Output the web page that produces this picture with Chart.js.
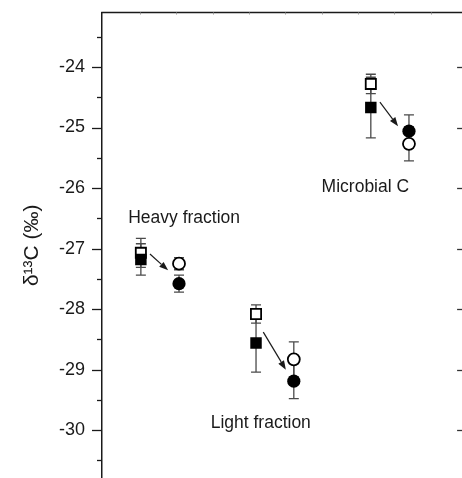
<!DOCTYPE html>
<html><head><meta charset="utf-8">
<script src="https://cdn.jsdelivr.net/npm/chart.js@4.4.0/dist/chart.umd.min.js"></script>
<style>
html,body{margin:0;padding:0;overflow:hidden;background:#fff;width:462px;height:478px}
canvas{display:block}
</style></head>
<body>
<canvas id="c" width="462" height="478"></canvas>
<script>
// ---- data ----
const groupLabels = ['Heavy fraction', 'Light fraction', 'Microbial C'];
const labelX = [2.21, 4.32, 7.20];
const labelY = [-26.57, -29.97, -26.06];
const xBefore = [1.02, 4.19, 7.35];
const xAfter = [2.07, 5.23, 8.40];
const openSquare = [-27.07, -28.08, -24.28];
const openSquareErr = [0.24, 0.15, 0.16];
const filledSquare = [-27.18, -28.56, -24.67];
const filledSquareErr = [0.26, 0.48, 0.50];
const openCircle = [-27.25, -28.83, -25.27];
const openCircleErr = [0.10, 0.29, 0.28];
const filledCircle = [-27.58, -29.19, -25.06];
const filledCircleErr = [0.14, 0.29, 0.27];
const arrowFromX = [1.27, 4.39, 7.60];
const arrowFromY = [-27.09, -28.38, -24.58];
const arrowToX = [1.77, 5.01, 8.10];
const arrowToY = [-27.36, -29.00, -24.98];
const yTickValues = [-30.5, -30, -29.5, -29, -28.5, -28, -27.5, -27, -26.5, -26, -25.5, -25, -24.5, -24, -23.5];
const topTickValues = [1, 2, 3, 4, 5, 6, 7, 8, 9];
const rightAxisValue = 10;   // right frame lies just outside the visible picture

const FONT = "'Liberation Sans', Arial, Helvetica, sans-serif";
const INK = '#1a1a1a';

function pts(xs, ys, errs) { return xs.map((x, i) => ({x: x, y: ys[i], err: errs[i]})); }

const decor = {
  id: 'decor',
  beforeDatasetsDraw(chart) {
    const {ctx} = chart;
    const xs = chart.scales.x, ys = chart.scales.y;
    ctx.save();
    ctx.strokeStyle = '#4a4a4a';
    ctx.lineWidth = 1.3;
    chart.data.datasets.forEach(ds => {
      ds.data.forEach(p => {
        const px = xs.getPixelForValue(p.x);
        const y1 = ys.getPixelForValue(p.y + p.err);
        const y2 = ys.getPixelForValue(p.y - p.err);
        ctx.beginPath();
        ctx.moveTo(px, y1); ctx.lineTo(px, y2);
        ctx.moveTo(px - 5, y1); ctx.lineTo(px + 5, y1);
        ctx.moveTo(px - 5, y2); ctx.lineTo(px + 5, y2);
        ctx.stroke();
      });
    });
    // arrows
    ctx.strokeStyle = INK; ctx.fillStyle = INK; ctx.lineWidth = 1.2;
    for (let i = 0; i < arrowFromX.length; i++) {
      const x1 = xs.getPixelForValue(arrowFromX[i]), y1 = ys.getPixelForValue(arrowFromY[i]);
      const x2 = xs.getPixelForValue(arrowToX[i]), y2 = ys.getPixelForValue(arrowToY[i]);
      const a = Math.atan2(y2 - y1, x2 - x1);
      const L = 9, W = 3.3;
      const bx = x2 - L * Math.cos(a), by = y2 - L * Math.sin(a);
      ctx.beginPath(); ctx.moveTo(x1, y1); ctx.lineTo(bx, by); ctx.stroke();
      ctx.beginPath();
      ctx.moveTo(x2, y2);
      ctx.lineTo(bx + W * Math.sin(a), by - W * Math.cos(a));
      ctx.lineTo(bx - W * Math.sin(a), by + W * Math.cos(a));
      ctx.closePath(); ctx.fill();
    }
    ctx.restore();
  },
  afterDraw(chart) {
    const {ctx, chartArea} = chart;
    const xs = chart.scales.x, ys = chart.scales.y;
    const rightX = xs.getPixelForValue(rightAxisValue);
    ctx.save();
    // top frame line
    ctx.strokeStyle = INK; ctx.lineWidth = 1.5;
    ctx.beginPath(); ctx.moveTo(chartArea.left - 0.75, chartArea.top); ctx.lineTo(rightX, chartArea.top); ctx.stroke();
    // left ticks (outward) and right ticks (inward)
    ctx.lineWidth = 1.3;
    yTickValues.forEach(v => {
      const y = Math.round(ys.getPixelForValue(v)) + 0.5;
      const major = Number.isInteger(v);
      ctx.strokeStyle = INK;
      ctx.beginPath();
      ctx.moveTo(chartArea.left - (major ? 10 : 5), y); ctx.lineTo(chartArea.left, y);
      ctx.stroke();
      ctx.strokeStyle = '#333';
      ctx.beginPath();
      ctx.moveTo(rightX - (major ? 10 : 5), y); ctx.lineTo(rightX, y);
      ctx.stroke();
    });
    // tiny top ticks
    ctx.strokeStyle = '#999'; ctx.lineWidth = 1;
    topTickValues.forEach(v => {
      const x = Math.round(xs.getPixelForValue(v)) + 0.5;
      ctx.beginPath(); ctx.moveTo(x, chartArea.top); ctx.lineTo(x, chartArea.top + 2); ctx.stroke();
    });
    // group labels
    ctx.fillStyle = INK;
    ctx.font = '17.5px ' + FONT;
    ctx.textAlign = 'center'; ctx.textBaseline = 'alphabetic';
    groupLabels.forEach((t, i) => {
      ctx.fillText(t, xs.getPixelForValue(labelX[i]), ys.getPixelForValue(labelY[i]));
    });
    ctx.restore();
  }
};

new Chart(document.getElementById('c'), {
  type: 'scatter',
  data: {
    datasets: [
      { label: 'filled square', data: pts(xBefore, filledSquare, filledSquareErr),
        pointStyle: 'rect', pointRadius: 8.1, pointHoverRadius: 8.1, backgroundColor: '#000', borderColor: '#000', borderWidth: 0 },
      { label: 'filled circle', data: pts(xAfter, filledCircle, filledCircleErr),
        pointStyle: 'circle', pointRadius: 6.6, pointHoverRadius: 6.6, backgroundColor: '#000', borderColor: '#000', borderWidth: 0 },
      { label: 'open circle', data: pts(xAfter, openCircle, openCircleErr),
        pointStyle: 'circle', pointRadius: 6.0, pointHoverRadius: 6.0, backgroundColor: '#fff', borderColor: '#000', borderWidth: 1.8 },
      { label: 'open square', data: pts(xBefore, openSquare, openSquareErr),
        pointStyle: 'rect', pointRadius: 7.2, pointHoverRadius: 7.2, backgroundColor: '#fff', borderColor: '#000', borderWidth: 1.8 }
    ]
  },
  options: {
    responsive: false,
    animation: false,
    devicePixelRatio: 1,
    layout: { autoPadding: false, padding: { top: 12.5, right: 0, left: 0, bottom: 0 } },
    plugins: { legend: { display: false }, tooltip: { enabled: false } },
    scales: {
      x: { type: 'linear', min: -0.05, max: 9.86, display: false, ticks: { display: false } },
      y: {
        type: 'linear', min: -30.79, max: -23.1,
        afterBuildTicks(scale) { scale.ticks = yTickValues.map(v => ({value: v})); },
        afterFit(scale) { scale.width = 102; scale.paddingTop = 0; scale.paddingBottom = 0; },
        grid: { display: false, drawTicks: false },
        border: { display: true, color: INK, width: 1.5 },
        ticks: {
          padding: 17,
          color: INK,
          font: { family: FONT, size: 18, lineHeight: 0.1 },
          callback: v => Number.isInteger(v) ? String(v) : ''
        },
        title: {
          display: true, text: 'δ¹³C (‰)', color: INK,
          font: { family: FONT, size: 21 },
          padding: { top: 19.5, bottom: 0 }
        }
      }
    }
  },
  plugins: [decor]
});
</script>
</body></html>
